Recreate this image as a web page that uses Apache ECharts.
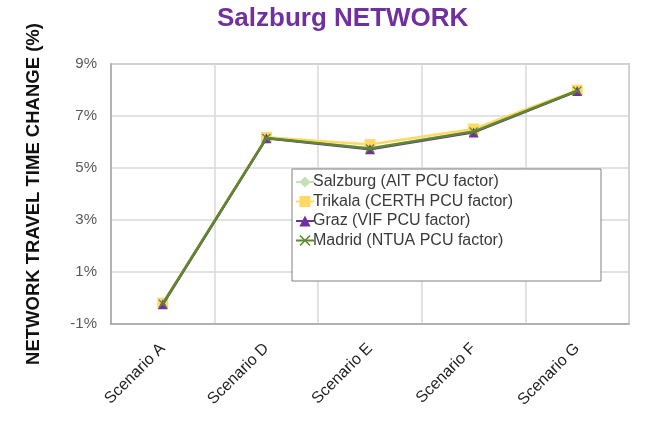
<!DOCTYPE html>
<html>
<head>
<meta charset="utf-8">
<script src="https://cdn.jsdelivr.net/npm/echarts@6/dist/echarts.min.js"></script>
<style>html,body{margin:0;padding:0;background:#fff}#c{width:659px;height:436px}</style>
</head>
<body>
<div id="c"></div>
<script>
const categories = ['Scenario A', 'Scenario D', 'Scenario E', 'Scenario F', 'Scenario G'];
const yTicks = [-1, 1, 3, 5, 7, 9];
const salzburg = [-0.22, 6.15, 5.76, 6.4, 7.97];
const trikala = [-0.2, 6.18, 5.9, 6.5, 7.99];
const graz = [-0.24, 6.14, 5.72, 6.37, 7.96];
const madrid = [-0.22, 6.15, 5.75, 6.4, 7.97];

const chart = echarts.init(document.getElementById('c'));
const font = 'Arial, "Liberation Sans", sans-serif';
const xPath = 'path://M0,1 L1,0 L5,4 L9,0 L10,1 L6,5 L10,9 L9,10 L5,6 L1,10 L0,9 L4,5 Z';
function mk(name, data, color, symbol, size, z) {
  return {
    name, type: 'line', data, symbol, symbolSize: size, z,
    itemStyle: { color: color },
    lineStyle: { color: color, width: 2.5 },
    emphasis: { disabled: true },
    animation: false
  };
}
chart.setOption({
  animation: false,
  title: {
    text: 'Salzburg NETWORK', left: 212, top: 1,
    textStyle: { color: '#7030A0', fontSize: 26, fontWeight: 'bold', fontFamily: font }
  },
  grid: { left: 111, right: 30, top: 64, bottom: 112, show: true, borderColor: '#A6A6A6', borderWidth: 1.5 },
  graphic: [{
    type: 'rect', z: 50,
    shape: { x: 292, y: 169, width: 309, height: 112 },
    style: { fill: '#fff', stroke: '#808080', lineWidth: 1 }
  }],
  legend: {
    orient: 'vertical', left: 290, top: 169, z: 60,
    itemWidth: 18, itemHeight: 14, itemGap: 3.5,
    textStyle: { color: '#3a3a3a', fontSize: 16, fontFamily: font, padding: [0, 0, 0, -6] },
    data: ['Salzburg (AIT PCU factor)', 'Trikala (CERTH PCU factor)', 'Graz (VIF PCU factor)', 'Madrid (NTUA PCU factor)']
  },
  xAxis: {
    type: 'category', data: categories, boundaryGap: true,
    axisLine: { onZero: false, lineStyle: { color: '#A6A6A6', width: 1.5 } },
    axisTick: { show: false },
    splitLine: { show: true, lineStyle: { color: '#D9D9D9', width: 1.5 } },
    axisLabel: { rotate: 45, color: '#1f1f1f', fontSize: 16, fontFamily: font, margin: 22 }
  },
  yAxis: {
    type: 'value', min: yTicks[0], max: yTicks[yTicks.length - 1], interval: 2,
    name: 'NETWORK TRAVEL TIME CHANGE (%)', nameLocation: 'middle', nameGap: 68,
    nameTextStyle: { color: '#111', fontSize: 18.5, fontWeight: 'bold', fontFamily: font },
    axisLine: { show: true, lineStyle: { color: '#A6A6A6', width: 1.5 } },
    axisTick: { show: false },
    splitLine: { show: true, lineStyle: { color: '#D9D9D9', width: 1.5 } },
    axisLabel: { color: '#595959', fontSize: 15, fontFamily: font, margin: 14, formatter: v => v + '%' }
  },
  series: [
    mk('Salzburg (AIT PCU factor)', salzburg, '#C5E0B4', 'diamond', 11, 2),
    mk('Trikala (CERTH PCU factor)', trikala, '#FFD966', 'rect', 11, 3),
    mk('Graz (VIF PCU factor)', graz, '#7030A0', 'triangle', 10, 4),
    mk('Madrid (NTUA PCU factor)', madrid, '#5B8A2E', xPath, 9, 5)
  ]
});
</script>
</body>
</html>
